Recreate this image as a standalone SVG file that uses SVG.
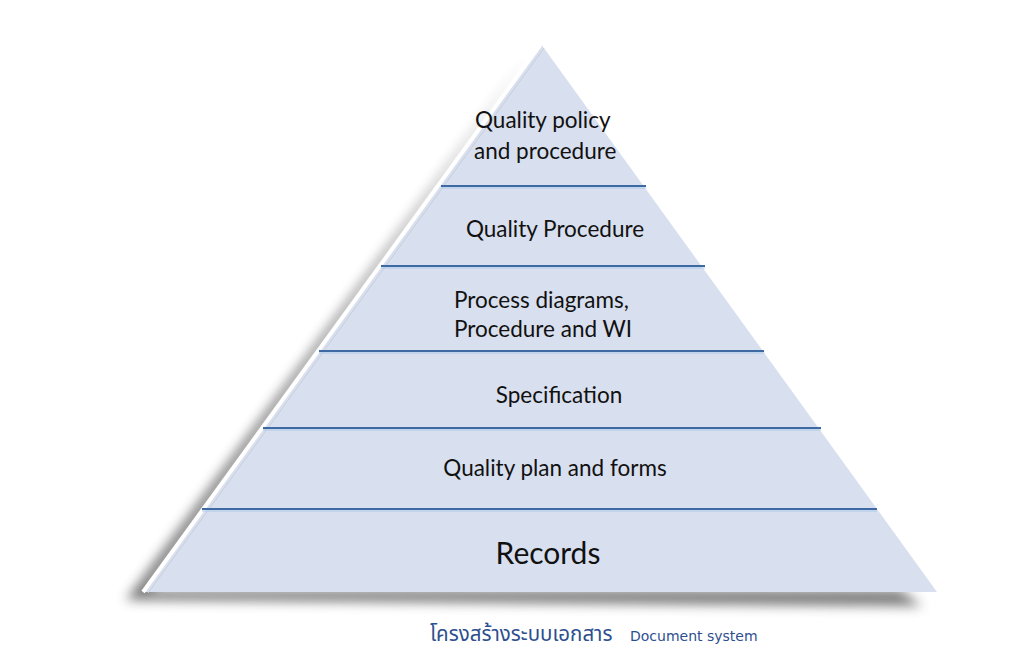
<svg xmlns="http://www.w3.org/2000/svg" width="1036" height="661" viewBox="0 0 1036 661">
<defs>
<filter id="shadow" x="-20%" y="-20%" width="140%" height="140%">
<feGaussianBlur stdDeviation="6"/>
</filter>
<style>
.lbl{font-family:Lato,"Open Sans","Liberation Sans",sans-serif;font-size:22.5px;fill:#111}
.big{font-size:30px}
.sep{stroke:#3d6aa3;stroke-width:2}
.hl{stroke:#a9c9ea;stroke-width:1}
.cap{fill:#2e4f8f}
</style>
</defs>
<rect width="1036" height="661" fill="#ffffff"/>
<g id="pyramid">
<polygon points="528,58 126,600 922,606 900,590 150,590" fill="#444" opacity="0.7" filter="url(#shadow)"/>
<polygon points="541,44 937,592 143,592" fill="#d8dfee"/>
<line x1="541" y1="44" x2="143" y2="592" stroke="#ffffff" stroke-width="4"/>
<line x1="544" y1="48" x2="148" y2="593" stroke="#c8cdd8" stroke-width="1"/>
</g>
<g id="connectors">
<line class="sep" x1="441" y1="186" x2="646" y2="186"/>
<line class="hl" x1="441" y1="188" x2="646" y2="188"/>
<line class="sep" x1="381" y1="266" x2="705" y2="266"/>
<line class="hl" x1="381" y1="268" x2="705" y2="268"/>
<line class="sep" x1="319" y1="351" x2="764" y2="351"/>
<line class="hl" x1="319" y1="353" x2="764" y2="353"/>
<line class="sep" x1="263" y1="428" x2="821" y2="428"/>
<line class="hl" x1="263" y1="430" x2="821" y2="430"/>
<line class="sep" x1="202" y1="509" x2="877" y2="509"/>
<line class="hl" x1="202" y1="511" x2="877" y2="511"/>
</g>
<g id="level1">
<text class="lbl" x="475" y="128">Quality policy</text>
<text class="lbl" x="474" y="159">and procedure</text>
</g>
<g id="level2">
<text class="lbl" x="555" y="237" text-anchor="middle">Quality Procedure</text>
</g>
<g id="level3">
<text class="lbl" x="454" y="308">Process diagrams,</text>
<text class="lbl" x="454" y="337">Procedure and WI</text>
</g>
<g id="level4">
<text class="lbl" x="559" y="403" text-anchor="middle">Specification</text>
</g>
<g id="level5">
<text class="lbl" x="555" y="476" text-anchor="middle">Quality plan and forms</text>
</g>
<g id="level6">
<text class="lbl big" x="548" y="564" text-anchor="middle">Records</text>
</g>
<g id="caption">
<text class="cap" x="430" y="641" font-size="20.5" font-family="'Noto Sans Thai','Noto Sans','DejaVu Sans',sans-serif">โครงสร้างระบบเอกสาร</text>
<text class="cap" x="630" y="641" font-size="14" font-family="'DejaVu Sans','Liberation Sans',sans-serif">Document system</text>
</g>
</svg>
